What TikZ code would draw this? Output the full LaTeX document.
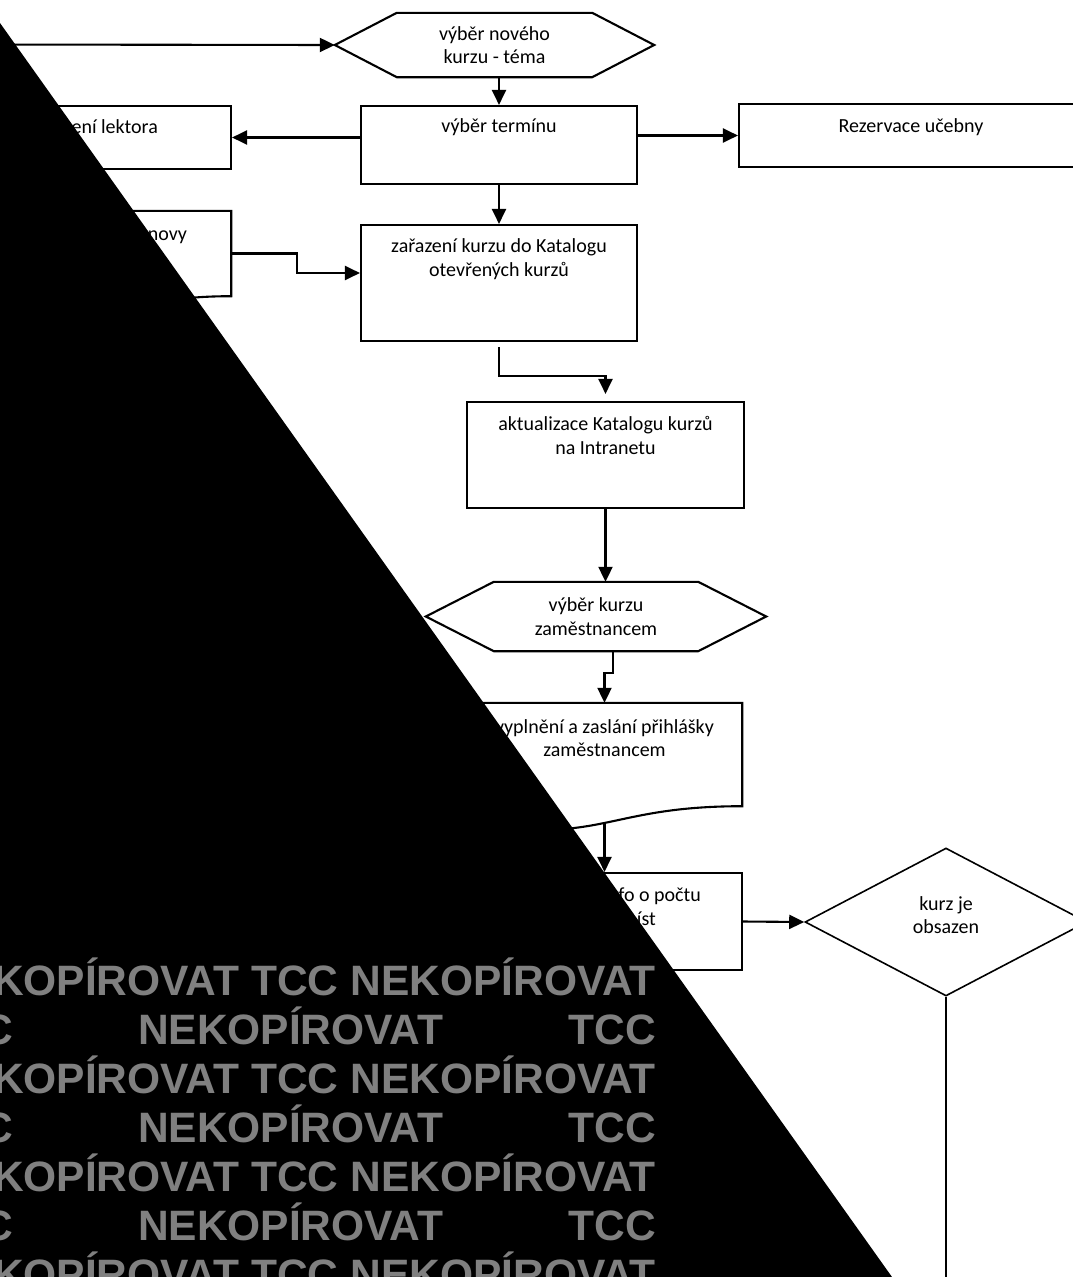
\documentclass[tikz,border=0pt]{standalone}
\usepackage{fontspec}
\setmainfont{Carlito}
\newfontfamily\wmfont{Liberation Sans}
\usetikzlibrary{arrows.meta,shapes.geometric}
\definecolor{wmgray}{RGB}{128,128,128}

\begin{document}
\begin{tikzpicture}[%
	x=1pt, y=-1pt,
	line/.style={line width=2.1pt},
	arr/.style={line, -{Triangle[length=15pt,width=14pt]}},
	box/.style={draw, line width=2.1pt, inner sep=0pt},
	plain/.style={inner sep=0pt},
	txt/.style={font=\fontsize{20}{23.5}\selectfont, align=center, inner sep=0pt},
	wm/.style={font=\wmfont\bfseries\fontsize{42.5}{49}\selectfont, text=wmgray, inner sep=0pt}]
	\useasboundingbox (0,0) rectangle (1072,1277);

	% tvary
	\node[plain, txt, minimum width=319pt, minimum height=64pt] (novyKurz) at (494.5,45) {výběr nového\\kurzu - téma};
	\node[box, minimum width=276pt, minimum height=78pt] (termin) at (499,145) {};
	\node[box, minimum width=221pt, minimum height=63pt] (lektor) at (120.5,137.5) {};
	\node[box, minimum width=344pt, minimum height=63pt] (ucebna) at (911,135.5) {};
	\node[box, minimum width=276pt, minimum height=116pt] (katalog) at (499,283) {};
	\node[plain, minimum width=221pt, minimum height=85pt] (osnova) at (120.5,253.5) {};
	\node[box, minimum width=277pt, minimum height=106pt] (intranet) at (605.5,455) {};
	\node[plain, txt, minimum width=340pt, minimum height=69pt] (vyberZam) at (596,616.5) {výběr kurzu\\zaměstnancem};
	\node[plain, minimum width=275pt, minimum height=103pt] (prihlaska) at (604.5,754.5) {};
	\node[box, minimum width=275pt, minimum height=97pt] (infoMista) at (604.5,921.5) {};
	\node[box, line width=1.6pt, shape=diamond, minimum width=282pt, minimum height=148pt] (obsazen) at (946,922) {};

	\foreach \nm/\sh in {novyKurz/62, vyberZam/68}
		\draw[line, line join=miter] (\nm.west) -- ([xshift=\sh pt]\nm.north west) -- ([xshift=-\sh pt]\nm.north east)
			-- (\nm.east) -- ([xshift=-\sh pt]\nm.south east) -- ([xshift=\sh pt]\nm.south west) -- cycle;
	\foreach \nm/\pa/\pb in {osnova/32/14, prihlaska/39/17}
		\draw[line] (\nm.south west) -- (\nm.north west) -- (\nm.north east) -- (\nm.south east)
			.. controls (\nm.south) and ([yshift=-\pa pt]\nm.south) .. ([yshift=-\pb pt]\nm.south west) -- cycle;

	% texty
	\node[txt] (terminTxt) at ([yshift=-22pt]termin.north) {výběr termínu};
	\node[txt] (ucebnaTxt) at ([yshift=-24pt]ucebna.north) {Rezervace učebny};
	\node[txt] (katalogTxt) at ([yshift=-35pt]katalog.north) {zařazení kurzu do Katalogu\\otevřených kurzů};
	\node[txt] (intranetTxt) at ([yshift=-34.5pt]intranet.north) {aktualizace Katalogu kurzů\\na Intranetu};
	\node[txt] (prihlaskaTxt) at ([yshift=-35.5pt]prihlaska.north) {vyplnění a zaslání přihlášky\\zaměstnancem};
	\node[txt, anchor=east] (lektorTxt) at ([xshift=-74pt,yshift=-22pt]lektor.north east) {ení lektora};
	\node[txt, anchor=east] (osnovaTxt) at ([xshift=-44pt,yshift=-26pt]osnova.north east) {novy};
	\node[txt, anchor=east] (infoTxtA) at ([xshift=-42pt,yshift=-24pt]infoMista.north east) {fo o počtu};
	\node[txt, anchor=east] (infoTxtB) at ([xshift=-87pt,yshift=-47pt]infoMista.north east) {íst};
	\node[txt] (obsazenTxt) at ([yshift=7pt]obsazen.center) {kurz je\\obsazen};

	% spojnice
	\coordinate (zdroj) at (-20,44.5);
	\coordinate (dolu) at (946,1300);
	\draw[arr] (zdroj) -- (novyKurz.west);
	\draw[arr] (termin.north |- novyKurz.south) -- (termin.north);
	\draw[arr] (termin.west |- lektor.east) -- (lektor.east);
	\draw[arr] (termin.east |- ucebna.west) -- (ucebna.west);
	\draw[arr] (termin.south) -- (katalog.north);
	\draw[arr] (osnova.east) -- ++(66,0) |- ([yshift=10pt]katalog.west);
	\draw[arr, shorten >=7pt] ([yshift=-5pt]katalog.south) -- ++(0,29) -| (intranet.north);
	\draw[arr] (intranet.south) -- (intranet.south |- vyberZam.north);
	\draw[arr] ([xshift=17pt]vyberZam.south) -- ++(0,22) -| (prihlaska.north);
	\draw[arr] ([yshift=-17pt]prihlaska.south) -- (infoMista.north);
	\draw[arr] (infoMista.east) -- (obsazen.west);
	\draw[line, line width=1.6pt] (obsazen.south) -- (dolu);

	% zacerneni a vodoznak
	\fill[black] (0,23) -- (892,1277) -- (0,1277) -- cycle;
	\foreach \yb [count=\k] in {995,1093,1191,1289}
		\node[wm, anchor=base east] (wmA\k) at (656,\yb) {TCC NEKOPÍROVAT TCC NEKOPÍROVAT};
	\foreach \yb [count=\k] in {1044,1142,1240}
		\node[wm, anchor=base east] (wmB\k) at (656,\yb) {TCC\hspace{125pt}NEKOPÍROVAT\hspace{125pt}TCC};
\end{tikzpicture}
\end{document}
